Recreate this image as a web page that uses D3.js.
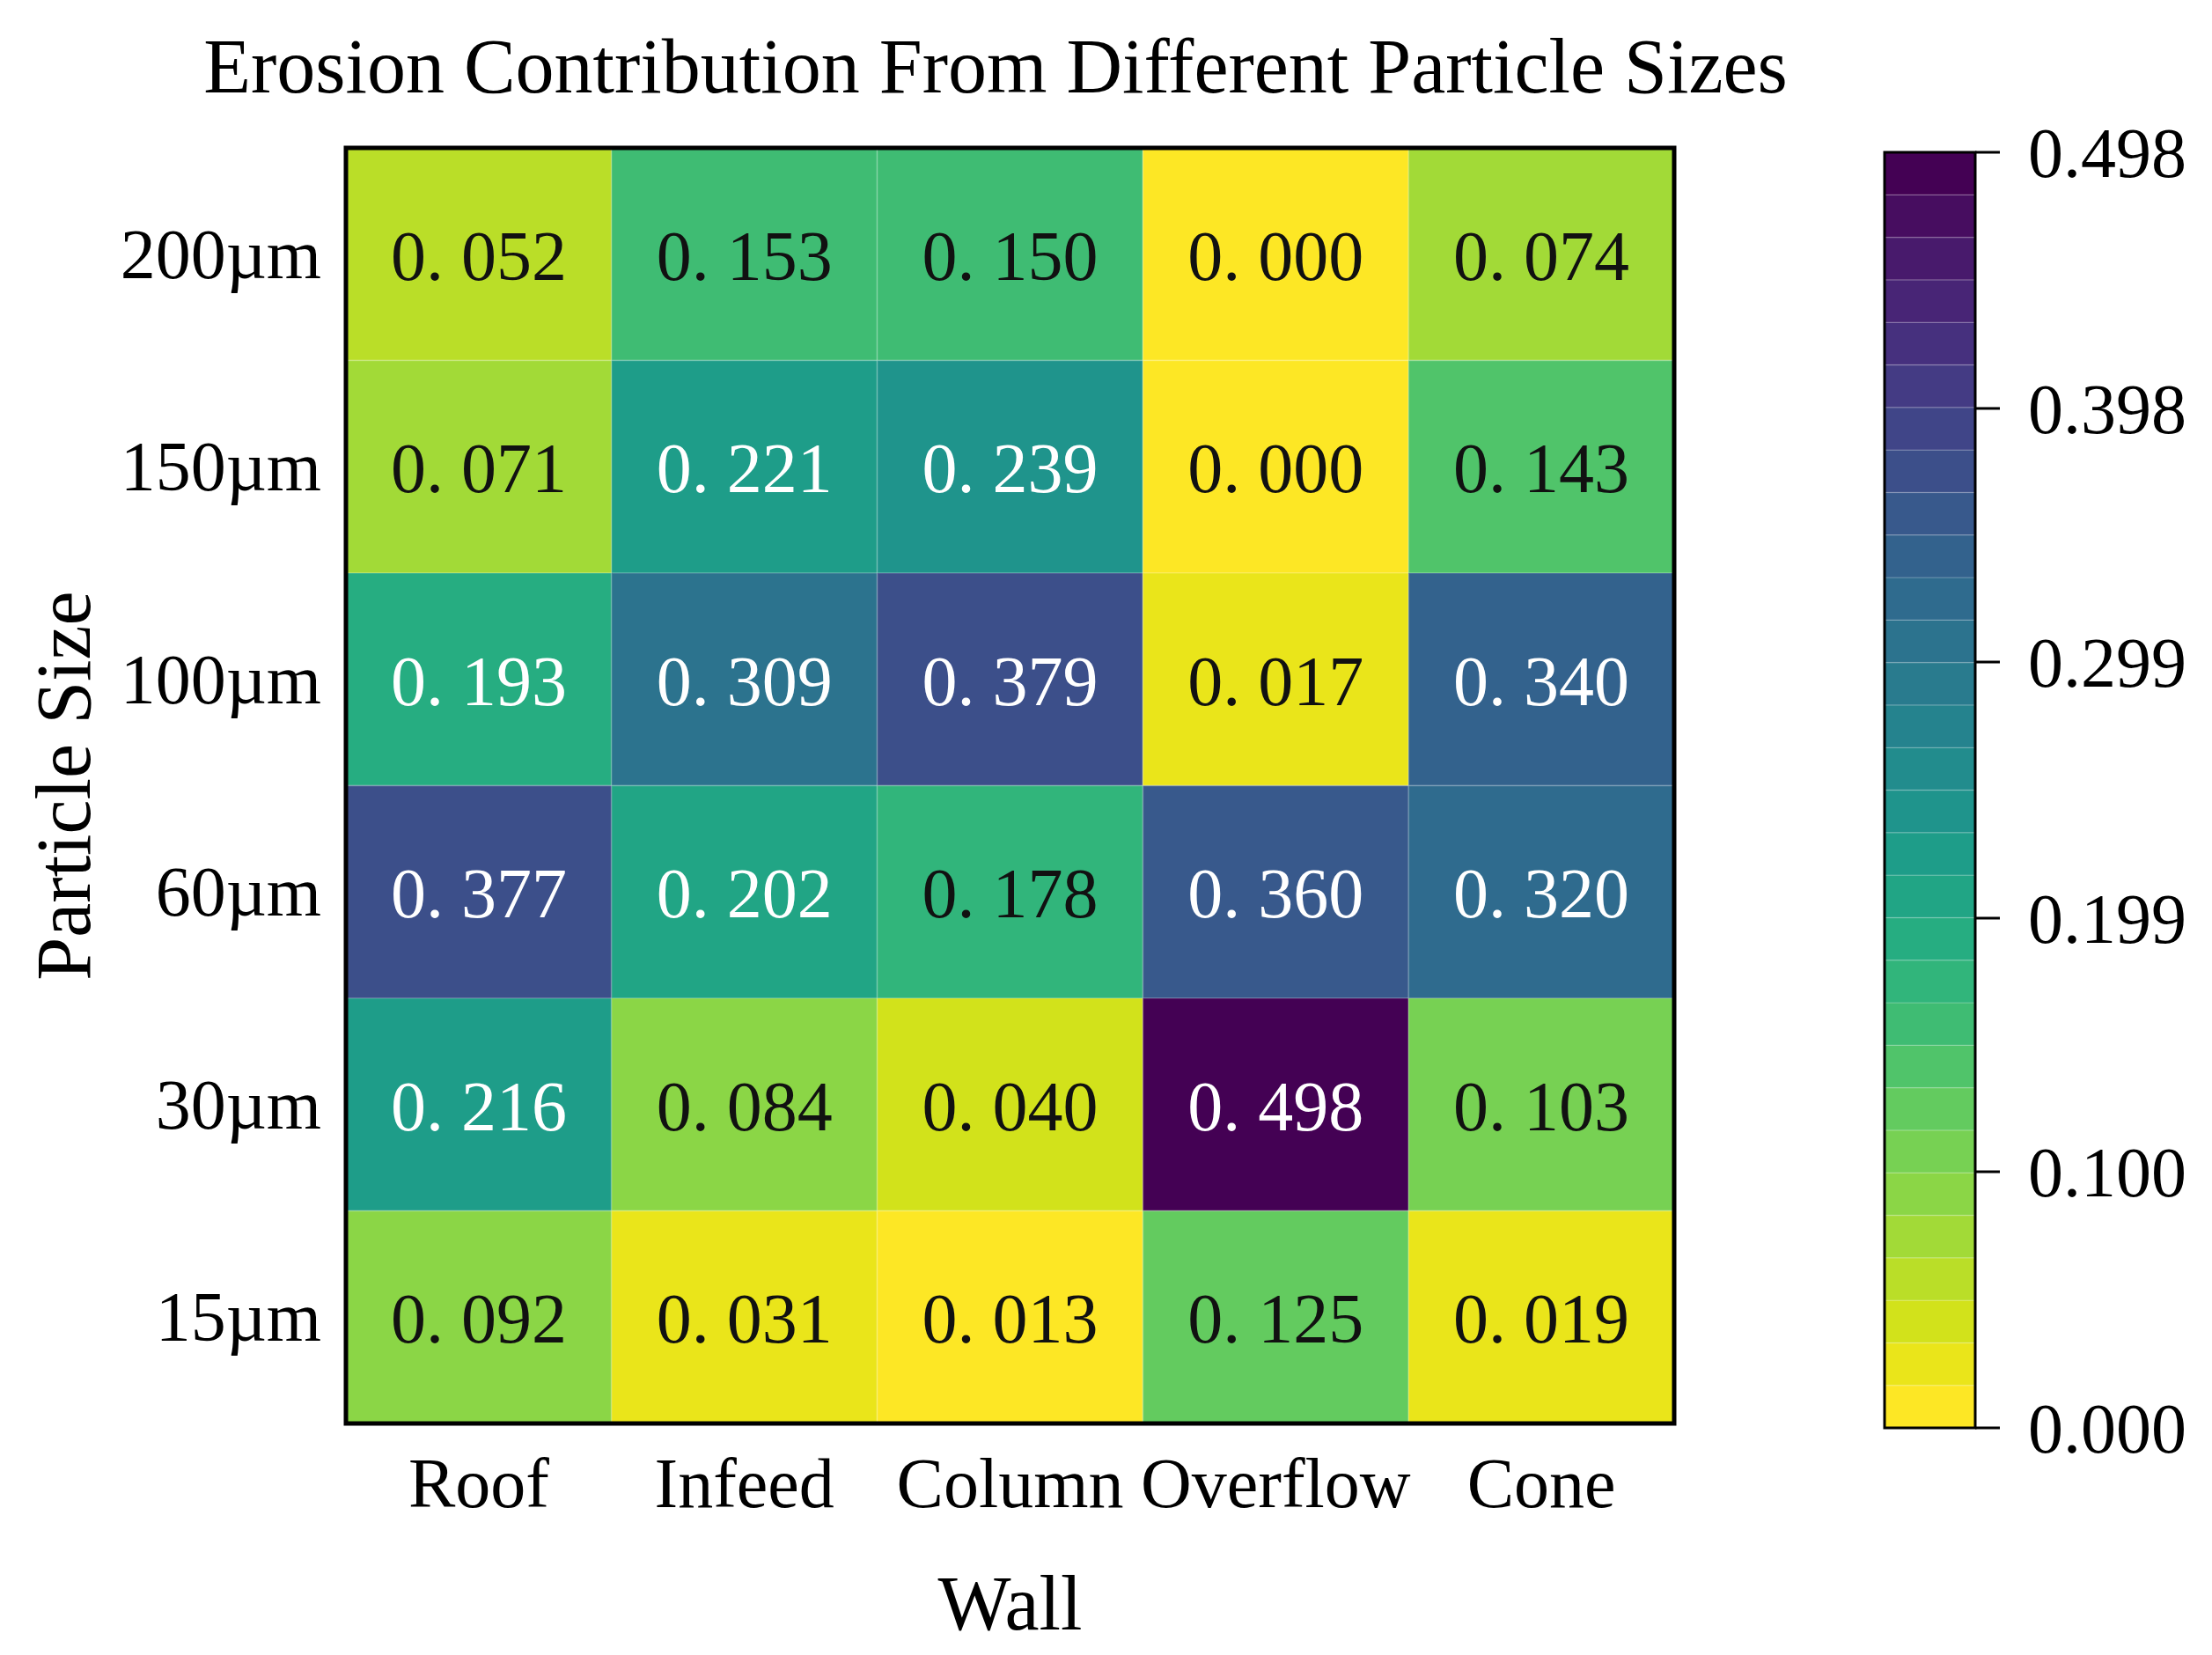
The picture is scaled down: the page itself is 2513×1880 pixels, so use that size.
<!DOCTYPE html>
<html>
<head>
<meta charset="utf-8">
<script src="https://cdn.jsdelivr.net/npm/d3@7"></script>
<style>
  body { margin: 0; background: #fff; }
  text { font-family: "Liberation Serif", "DejaVu Serif", serif; }
</style>
</head>
<body>
<svg id="chart" width="2513" height="1880"></svg>
<script>
// data
var walls = ["Roof", "Infeed", "Column", "Overflow", "Cone"];
var sizes = ["200\u00b5m", "150\u00b5m", "100\u00b5m", "60\u00b5m", "30\u00b5m", "15\u00b5m"];
var roof     = [0.052, 0.071, 0.193, 0.377, 0.216, 0.092];
var infeed   = [0.153, 0.221, 0.309, 0.202, 0.084, 0.031];
var column   = [0.150, 0.239, 0.379, 0.178, 0.040, 0.013];
var overflow = [0.000, 0.000, 0.017, 0.360, 0.498, 0.125];
var cone     = [0.074, 0.143, 0.340, 0.320, 0.103, 0.019];
var cbTicks  = ["0.000", "0.100", "0.199", "0.299", "0.398", "0.498"];
var nLevels = 30;

var series = [roof, infeed, column, overflow, cone];
var cells = [];
series.forEach(function(col, i) {
  col.forEach(function(v, j) {
    cells.push({wall: walls[i], size: sizes[j], value: v});
  });
});

var vmax = d3.max(cells, function(d) { return d.value; });
var svg = d3.select("#chart");

var box = {left: 393, right: 1902, top: 168, bottom: 1617};

var x = d3.scaleBand().domain(walls).range([box.left, box.right]);
var y = d3.scaleBand().domain(sizes).range([box.top, box.bottom]);

// 30 step viridis, reversed (yellow = low)
var palette = d3.range(nLevels).map(function(i) {
  return d3.interpolateViridis(1 - i / (nLevels - 1));
});
var level = function(v) {
  return Math.min(nLevels - 1, Math.floor(v / vmax * nLevels));
};
var color = function(v) { return palette[level(v)]; };

// cells
svg.append("g").selectAll("rect")
  .data(cells)
  .enter()
  .append("rect")
  .attr("x", function(d) { return x(d.wall); })
  .attr("y", function(d) { return y(d.size); })
  .attr("width", x.bandwidth())
  .attr("height", y.bandwidth())
  .attr("fill", function(d) { return color(d.value); })
  .attr("stroke", "rgba(255,255,255,0.12)")
  .attr("stroke-width", 2);

// annotations, with the wide gap after the point
var ann = svg.append("g").selectAll("text")
  .data(cells)
  .enter()
  .append("text")
  .attr("x", function(d) { return x(d.wall) + x.bandwidth() / 2; })
  .attr("y", function(d) { return y(d.size) + y.bandwidth() / 2 + 29; })
  .attr("text-anchor", "middle")
  .style("font-size", "80px")
  .attr("fill", function(d) { return level(d.value) >= 11 ? "#fff" : "#111"; });
ann.append("tspan").text(function(d) { return d.value.toFixed(3).slice(0, 2); });
ann.append("tspan").attr("dx", 20).text(function(d) { return d.value.toFixed(3).slice(2); });

// frame
svg.append("rect")
  .attr("x", box.left).attr("y", box.top)
  .attr("width", box.right - box.left).attr("height", box.bottom - box.top)
  .attr("fill", "none").attr("stroke", "#000").attr("stroke-width", 5);

// tick labels
svg.append("g").selectAll("text")
  .data(walls).enter().append("text")
  .attr("x", function(d) { return x(d) + x.bandwidth() / 2; })
  .attr("y", 1712)
  .attr("text-anchor", "middle")
  .style("font-size", "80px")
  .text(function(d) { return d; });

svg.append("g").selectAll("text")
  .data(sizes).enter().append("text")
  .attr("x", 365)
  .attr("y", function(d) { return y(d) + y.bandwidth() / 2 + 27; })
  .attr("text-anchor", "end")
  .style("font-size", "80px")
  .text(function(d) { return d; });

// titles
svg.append("text")
  .attr("x", 1131).attr("y", 105)
  .attr("text-anchor", "middle")
  .style("font-size", "88px")
  .text("Erosion Contribution From Different Particle Sizes");

svg.append("text")
  .attr("x", (box.left + box.right) / 2).attr("y", 1851)
  .attr("text-anchor", "middle")
  .style("font-size", "88px")
  .text("Wall");

svg.append("text")
  .attr("transform", "translate(102," + ((box.top + box.bottom) / 2) + ") rotate(-90)")
  .attr("text-anchor", "middle")
  .style("font-size", "88px")
  .text("Particle Size");

// colorbar
var cb = {left: 2141, right: 2244, top: 173, bottom: 1622};
var cy = d3.scaleLinear().domain([0, vmax]).range([cb.bottom, cb.top]);

svg.append("g").selectAll("rect")
  .data(palette).enter().append("rect")
  .attr("x", cb.left)
  .attr("width", cb.right - cb.left)
  .attr("y", function(d, i) { return cy((i + 1) * vmax / nLevels); })
  .attr("height", function(d, i) { return cy(i * vmax / nLevels) - cy((i + 1) * vmax / nLevels); })
  .attr("fill", function(d) { return d; })
  .attr("stroke", "rgba(255,255,255,0.15)")
  .attr("stroke-width", 1.5);

svg.append("rect")
  .attr("x", cb.left).attr("y", cb.top)
  .attr("width", cb.right - cb.left).attr("height", cb.bottom - cb.top)
  .attr("fill", "none").attr("stroke", "#000").attr("stroke-width", 3);

var cbAxis = svg.append("g").selectAll("g")
  .data(cbTicks).enter().append("g")
  .attr("transform", function(d) { return "translate(" + cb.right + "," + cy(+d) + ")"; });
cbAxis.append("line")
  .attr("x1", 0).attr("x2", 28)
  .attr("stroke", "#000").attr("stroke-width", 3);
cbAxis.append("text")
  .attr("x", 60).attr("y", 28)
  .style("font-size", "80px")
  .text(function(d) { return d; });
</script>
</body>
</html>
